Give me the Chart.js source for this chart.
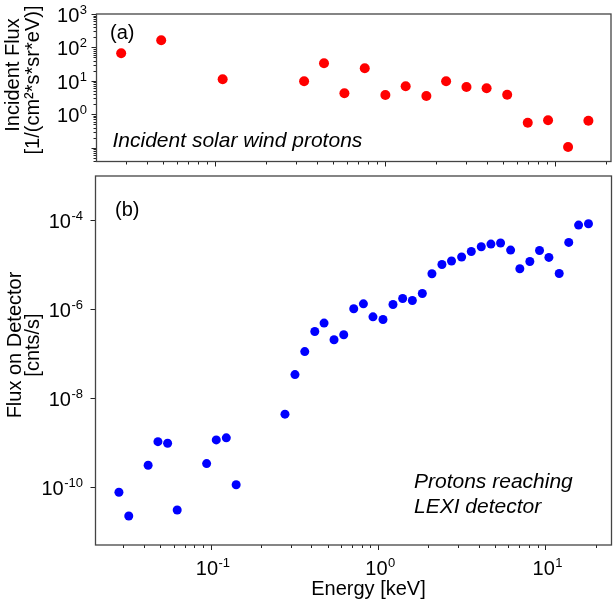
<!DOCTYPE html>
<html><head><meta charset="utf-8">
<script src="https://cdn.jsdelivr.net/npm/chart.js@4.4.1/dist/chart.umd.min.js"></script>
<style>
html,body{margin:0;padding:0;background:#fff;}
#wrap{position:relative;width:616px;height:601px;background:#fff;}
canvas{position:absolute;left:0;top:0;}
</style></head><body>
<div id="wrap"><canvas id="c1" width="616" height="601"></canvas><canvas id="c2" width="616" height="601"></canvas></div>
<script>
// ---- data ----
const topEnergy = [0.0282, 0.0485, 0.1115, 0.336, 0.44, 0.58, 0.764, 1.01, 1.33, 1.76, 2.30, 3.03, 3.98, 5.26, 6.95, 9.15, 12.0, 15.8];
const topFlux   = [66.5, 163, 11.1, 9.67, 33.4, 4.23, 23.7, 3.76, 6.84, 3.51, 9.67, 6.52, 5.96, 3.84, 0.557, 0.656, 0.104, 0.638];

const bottomEnergy = [0.0283, 0.0324, 0.0423, 0.0484, 0.0553, 0.0631, 0.0946, 0.108, 0.124, 0.142,
  0.278, 0.319, 0.365, 0.419, 0.476, 0.546, 0.624, 0.716, 0.818, 0.933, 1.071, 1.229, 1.404, 1.604,
  1.84, 2.10, 2.41, 2.75, 3.16, 3.61, 4.14, 4.73, 5.40, 6.20, 7.04, 8.08, 9.23, 10.5, 12.1, 13.8, 15.8, 18.1];
const bottomFlux = [7.64e-11, 2.23e-11, 3.10e-10, 1.05e-9, 9.7e-10, 3.05e-11, 3.37e-10, 1.15e-9, 1.28e-9, 1.13e-10,
  4.37e-9, 3.40e-8, 1.12e-7, 3.16e-7, 4.89e-7, 2.06e-7, 2.67e-7, 1.03e-6, 1.33e-6, 6.78e-7, 5.89e-7, 1.28e-6, 1.75e-6, 1.58e-6,
  2.27e-6, 6.3e-6, 1.02e-5, 1.22e-5, 1.50e-5, 2.00e-5, 2.56e-5, 2.94e-5, 3.10e-5, 2.15e-5, 8.17e-6, 1.19e-5, 2.11e-5, 1.47e-5, 6.4e-6, 3.20e-5, 7.87e-5, 8.43e-5];

const xTickExponents = [-1, 0, 1];
const topYTickExponents = [0, 1, 2, 3];
const bottomYTickExponents = [-10, -8, -6, -4];

const xTitle = 'Energy [keV]';
const topYTitle = ['Incident Flux', '[1/(cm\u00B2*s*sr*eV)]'];
const bottomYTitle = ['Flux on Detector', '[cnts/s]'];
const topPanelLabel = '(a)';
const bottomPanelLabel = '(b)';
const topNote = ['Incident solar wind protons'];
const bottomNote = ['Protons reaching', 'LEXI detector'];

// ---- drawing helpers ----
const FONT = '"Liberation Sans", Arial, Helvetica, sans-serif';
function drawPow(ctx, exp, x, y, align) {
  ctx.font = '20px ' + FONT;
  const w1 = ctx.measureText('10').width;
  ctx.font = '13px ' + FONT;
  const es = String(exp);
  const w2 = ctx.measureText(es).width;
  const total = w1 + w2;
  const x0 = align === 'right' ? x - total : (align === 'center' ? x - total / 2 : x);
  ctx.textAlign = 'left'; ctx.textBaseline = 'alphabetic';
  ctx.font = '20px ' + FONT; ctx.fillText('10', x0, y);
  ctx.font = '13px ' + FONT; ctx.fillText(es, x0 + w1 + 0.5, y - 8);
}
function tickValues(scale, withMinor) {
  const out = [];
  const e0 = Math.floor(Math.log10(scale.min)), e1 = Math.ceil(Math.log10(scale.max));
  for (let e = e0; e <= e1; e++) {
    for (let m = 1; m <= 9; m++) {
      if (m > 1 && !withMinor) continue;
      const v = m * Math.pow(10, e);
      if (v >= scale.min * 0.9999 && v <= scale.max * 1.0001) out.push({v, major: m === 1});
    }
  }
  return out;
}

const framePlugin = {
  id: 'frame',
  afterDraw(chart, args, o) {
    const ctx = chart.ctx, a = chart.chartArea, xs = chart.scales.x, ys = chart.scales.y;
    ctx.save();
    ctx.fillStyle = '#000';
    // ticks
    ctx.strokeStyle = '#222'; ctx.lineWidth = 1;
    ctx.beginPath();
    for (const t of tickValues(xs, true)) {
      const px = Math.round(xs.getPixelForValue(t.v)) + 0.5;
      ctx.moveTo(px, a.bottom); ctx.lineTo(px, a.bottom + (t.major ? 5 : 3));
    }
    for (const t of tickValues(ys, o.yMinor)) {
      const py = Math.round(ys.getPixelForValue(t.v)) + 0.5;
      if (t.major && o.yMajorEvery2 && Math.round(Math.log10(t.v)) % 2 !== 0) continue;
      ctx.moveTo(a.left, py); ctx.lineTo(a.left - (t.major ? 5 : 3), py);
    }
    ctx.stroke();
    // frame
    ctx.strokeStyle = '#444'; ctx.lineWidth = 1.3;
    ctx.strokeRect(a.left, a.top, a.right - a.left, a.bottom - a.top);
    // y labels
    for (const e of o.yExps) {
      const py = ys.getPixelForValue(Math.pow(10, e));
      drawPow(ctx, e, a.left - o.yLabelGap, py + 8, 'right');
    }
    // x labels
    if (o.xExps) {
      for (const e of o.xExps) {
        const px = xs.getPixelForValue(Math.pow(10, e));
        drawPow(ctx, e, px + 2, a.bottom + 30, 'center');
      }
      ctx.font = '20px ' + FONT; ctx.textAlign = 'center';
      ctx.fillText(o.xTitle, (a.left + a.right) / 2 + 15, a.bottom + 50);
    }
    // y title (two lines, rotated)
    for (let i = 0; i < 2; i++) {
      ctx.save();
      ctx.translate(o.yTitleX[i], o.yTitleY[i]);
      ctx.rotate(-Math.PI / 2);
      ctx.font = '20px ' + FONT; ctx.textAlign = 'center'; ctx.textBaseline = 'alphabetic';
      ctx.fillText(o.yTitle[i], 0, 0);
      ctx.restore();
    }
    // panel label
    ctx.font = '20px ' + FONT; ctx.textAlign = 'left';
    ctx.fillText(o.panelLabel, o.panelPos[0], o.panelPos[1]);
    // note
    ctx.font = 'italic 21px ' + FONT;
    o.note.forEach((s, i) => ctx.fillText(s, o.notePos[0], o.notePos[1] + i * 25));
    ctx.restore();
  }
};

function makeData(xs, ys) { return xs.map((x, i) => ({x, y: ys[i]})); }

new Chart(document.getElementById('c1'), {
  type: 'scatter',
  data: { datasets: [{ data: makeData(topEnergy, topFlux), backgroundColor: '#ff0000', borderColor: '#ff0000', borderWidth: 0, pointRadius: 5 }] },
  options: {
    responsive: false, animation: false, events: [],
    layout: { padding: { left: 96.5, top: 14, right: 2, bottom: 439.5 } },
    scales: {
      x: { type: 'logarithmic', display: false, min: 0.02019, max: 21.46 },
      y: { type: 'logarithmic', display: false, min: 0.0384, max: 1000 }
    },
    plugins: {
      legend: { display: false }, tooltip: { enabled: false },
      frame: { yMinor: true, yLabelGap: 10, yExps: topYTickExponents, xExps: null, yTitle: topYTitle, yTitleX: [18.5, 39], yTitleY: [75, 80],
               panelLabel: topPanelLabel, panelPos: [110, 39], note: topNote, notePos: [112.5, 146.5] }
    }
  },
  plugins: [framePlugin]
});

new Chart(document.getElementById('c2'), {
  type: 'scatter',
  data: { datasets: [{ data: makeData(bottomEnergy, bottomFlux), backgroundColor: '#0000ff', borderColor: '#0000ff', borderWidth: 0, pointRadius: 4.5 }] },
  options: {
    responsive: false, animation: false, events: [],
    layout: { padding: { left: 95.5, top: 176, right: 4, bottom: 56 } },
    scales: {
      x: { type: 'logarithmic', display: false, min: 0.0205, max: 24.85 },
      y: { type: 'logarithmic', display: false, min: 4.97e-12, max: 1.0e-3 }
    },
    plugins: {
      legend: { display: false }, tooltip: { enabled: false },
      frame: { yMinor: false, yMajorEvery2: true, yLabelGap: 13, yExps: bottomYTickExponents, xExps: xTickExponents, xTitle: xTitle,
               yTitle: bottomYTitle, yTitleX: [20.5, 38.5], yTitleY: [345, 345],
               panelLabel: bottomPanelLabel, panelPos: [115, 216], note: bottomNote, notePos: [414, 488] }
    }
  },
  plugins: [framePlugin]
});
</script>
</body></html>
